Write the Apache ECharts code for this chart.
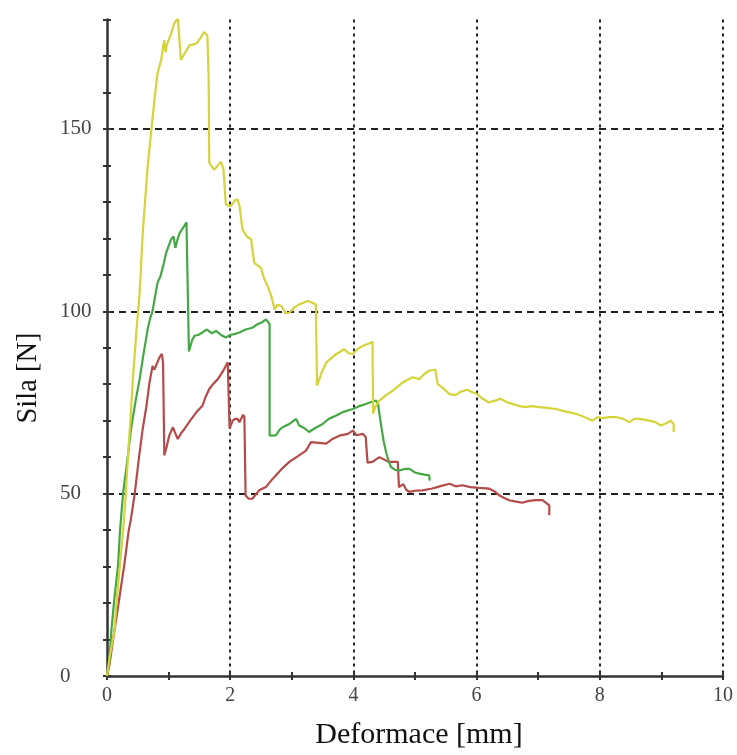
<!DOCTYPE html>
<html>
<head>
<meta charset="utf-8">
<script src="https://cdn.jsdelivr.net/npm/echarts@6/dist/echarts.min.js"></script>
<style>
html,body{margin:0;padding:0;background:#fff;}
#chart{width:737px;height:755px;}
</style>
</head>
<body>
<div id="chart"></div>
<script>
// x tick labels (every 2 mm) and y tick labels (every 50 N)
var xTickLabels = [0, 2, 4, 6, 8, 10];
var yTickLabels = [0, 50, 100, 150];
var xTitle = 'Deformace [mm]';
var yTitle = 'Sila [N]';

// Yellow curve [deformation mm, force N]
var yellowData = [
[0,0],[0.04,4.9],[0.12,12.3],[0.16,21.3],[0.21,30.4],[0.26,39.6],[0.30,48.6],[0.34,60],[0.38,70],
[0.42,81.4],[0.48,95.1],[0.53,105],[0.58,121.5],[0.66,139.7],[0.72,149.7],[0.77,157.9],[0.82,165.2],
[0.88,169],[0.91,172.5],[0.93,174.3],[0.95,171],[0.97,173],[1.04,176.1],[1.09,178.9],[1.15,180.3],
[1.18,180.6],[1.20,168.9],[1.27,171],[1.34,172.9],[1.45,173.4],[1.52,175],[1.58,176.6],[1.63,175.5],
[1.65,164],[1.66,140.7],[1.74,138.8],[1.80,140],[1.85,141],[1.89,139],[1.93,129.2],[2.01,128.8],
[2.08,130.5],[2.12,130.6],[2.15,129],[2.20,122.4],[2.27,120.5],[2.34,119.7],[2.39,113.3],[2.50,111.9],
[2.55,109],[2.61,106.9],[2.67,104],[2.72,100.5],[2.77,101.8],[2.83,101.4],[2.90,99.5],[2.96,99.6],
[3.04,101],[3.12,101.9],[3.26,102.8],[3.39,101.9],[3.41,79.6],[3.48,83],[3.56,86.0],[3.70,88],
[3.85,89.6],[3.92,88.5],[3.99,88.3],[4.08,89.8],[4.15,90.5],[4.31,91.6],[4.32,71.9],[4.36,74],
[4.42,75.5],[4.53,77],[4.64,78.2],[4.80,80.5],[4.96,81.9],[5.07,81.4],[5.15,82.8],[5.23,83.7],
[5.33,84],[5.37,80],[5.45,79],[5.56,77.3],[5.66,77.0],[5.75,78],[5.85,78.5],[5.93,77.8],[6.01,77.3],
[6.10,76],[6.20,75.0],[6.30,75.5],[6.39,76.0],[6.50,75],[6.58,74.6],[6.70,74],[6.80,73.7],[6.90,74],
[7.02,73.7],[7.15,73.5],[7.29,73.2],[7.45,72.5],[7.61,71.9],[7.75,71],[7.88,70.0],[7.96,71],[8.04,70.7],
[8.15,71],[8.26,71.0],[8.38,70.5],[8.48,69.6],[8.56,70.5],[8.64,70.5],[8.72,70.3],[8.80,70],[8.90,69.6],
[8.99,68.7],[9.08,69.3],[9.15,70.0],[9.20,69.1],[9.20,66.9]
];

// Green curve
var greenData = [
[0,0],[0.04,4],[0.07,12.3],[0.12,21.3],[0.18,30.4],[0.21,39.6],[0.26,50],[0.34,60.5],[0.39,67.8],
[0.47,76],[0.53,81.4],[0.59,88],[0.64,93],[0.66,95.1],[0.70,98],[0.74,100.1],[0.78,104],[0.82,107.8],
[0.87,109.7],[0.92,113],[0.96,116],[1.04,119.7],[1.08,120.5],[1.11,117.4],[1.15,120],[1.18,121.5],
[1.24,123],[1.29,124.4],[1.32,124.6],[1.33,89],[1.38,92],[1.42,93.3],[1.48,93.5],[1.55,94.2],[1.62,95],
[1.70,94],[1.77,94.6],[1.85,93.5],[1.93,92.8],[2.00,93.5],[2.08,93.8],[2.15,94.2],[2.25,95],[2.36,95.5],
[2.45,96.5],[2.52,97],[2.58,97.8],[2.64,96.5],[2.64,65.9],[2.74,66],[2.80,67.5],[2.85,68.2],[2.95,69],
[3.07,70.5],[3.12,68.7],[3.20,68],[3.28,66.9],[3.38,68],[3.50,69.1],[3.60,70.5],[3.72,71.4],[3.85,72.5],
[3.99,73.2],[4.10,74],[4.20,74.6],[4.30,75.2],[4.37,75.5],[4.40,74.5],[4.45,68.7],[4.49,64.5],
[4.53,61.4],[4.57,59],[4.61,57.3],[4.68,56.5],[4.76,56.4],[4.84,56.8],[4.91,56.8],[5.00,55.8],
[5.07,55.5],[5.15,55.2],[5.23,55.0],[5.24,53.6]
];

// Red curve
var redData = [
[0,0],[0.04,3.1],[0.12,12.3],[0.20,21.3],[0.28,30.4],[0.35,39.6],[0.39,43.2],[0.45,50],[0.52,60],
[0.58,67.8],[0.64,74],[0.69,80.5],[0.74,85.0],[0.77,84],[0.80,83.7],[0.85,87.3],[0.89,88.3],[0.91,86],
[0.93,60.5],[0.97,63],[1.01,65.9],[1.07,68.2],[1.11,66.5],[1.15,65.0],[1.20,66.5],[1.26,67.8],[1.35,70],
[1.45,72.3],[1.55,74.1],[1.60,76.5],[1.66,78.7],[1.72,80],[1.80,81.4],[1.88,83.5],[1.96,86.0],[1.99,67.8],
[2.04,70.0],[2.08,70.5],[2.12,70.5],[2.15,69.6],[2.21,71.6],[2.23,71],[2.25,49.5],[2.30,48.6],[2.36,48.6],
[2.39,49.1],[2.47,50.9],[2.58,51.8],[2.66,53.5],[2.74,55.0],[2.85,57],[2.96,58.7],[3.10,60.3],[3.23,61.8],
[3.31,64.1],[3.40,64],[3.56,63.7],[3.66,65],[3.77,65.9],[3.91,66.4],[3.99,67.3],[4.05,66],[4.15,66.4],
[4.20,65.5],[4.23,58.5],[4.31,58.7],[4.42,60.0],[4.47,59.6],[4.58,58.7],[4.72,58.7],[4.74,51.8],
[4.81,52.6],[4.86,51],[4.91,50.5],[5.00,50.8],[5.12,50.9],[5.28,51.4],[5.40,52],[5.56,52.7],[5.66,52],
[5.77,52.3],[5.90,51.8],[6.04,51.6],[6.20,51.4],[6.30,50.5],[6.37,49.5],[6.45,48.8],[6.53,48.2],
[6.64,47.8],[6.74,47.5],[6.85,48],[6.96,48.2],[7.07,48.2],[7.18,46.8],[7.18,44.1]
];

var chart = echarts.init(document.getElementById('chart'), null, {renderer:'canvas'});

var T = 'rgba(0,0,0,0)';
var xSplitColors = [];
for (var i = 0; i <= 10; i++) xSplitColors.push((xTickLabels.indexOf(i) > 0) ? '#222' : T);
var ySplitColors = [];
for (var j = 0; j <= 18; j++) { var v = j*10; ySplitColors.push((yTickLabels.indexOf(v) > 0) ? '#222' : T); }

var serifFont = '"Liberation Serif","DejaVu Serif",serif';

function makeLine(data, color) {
  return { type:'line', data:data, showSymbol:false, symbol:'none', animation:false,
    lineStyle:{ color:color, width:2.2 }, z:3, xAxisIndex:0, yAxisIndex:0 };
}

chart.setOption({
  backgroundColor:'#ffffff',
  animation:false,
  grid:{ left:107, right:14, top:19.5, bottom:77, containLabel:false },
  xAxis:[{
    type:'value', min:0, max:10, interval:1,
    axisLine:{ show:true, onZero:false, lineStyle:{ color:'#333', width:2.5 } },
    axisTick:{ show:true, inside:true, length:4, lineStyle:{ color:'#333', width:2 } },
    axisLabel:{ show:true, margin:10, fontFamily:serifFont, fontSize:20, color:'#444',
      formatter:function(v){ return xTickLabels.indexOf(v) >= 0 ? String(v) : ''; } },
    splitLine:{ show:true, lineStyle:{ color:xSplitColors, width:2, type:[3,4] } },
    name:xTitle, nameLocation:'middle', nameGap:44,
    nameTextStyle:{ fontFamily:serifFont, fontSize:30, color:'#111', padding:[0,0,0,8] }
  },{
    type:'value', min:0, max:10, interval:1, position:'bottom',
    axisLine:{ show:false }, axisTick:{ show:true, inside:false, length:4, lineStyle:{ color:'#333', width:2 } },
    axisLabel:{ show:false }, splitLine:{ show:false }
  }],
  yAxis:[{
    type:'value', min:0, max:180, interval:10,
    axisLine:{ show:true, onZero:false, lineStyle:{ color:'#333', width:2.5 } },
    axisTick:{ show:true, inside:true, length:4, lineStyle:{ color:'#333', width:2 } },
    axisLabel:{ show:true, margin:47, align:'left', fontFamily:serifFont, fontSize:21, color:'#444',
      formatter:function(v){ return yTickLabels.indexOf(v) >= 0 ? String(v) : ''; } },
    splitLine:{ show:true, lineStyle:{ color:ySplitColors, width:2, type:[7,5] } }
  },{
    type:'value', min:0, max:180, interval:10, position:'left',
    axisLine:{ show:false }, axisTick:{ show:true, inside:false, length:4, lineStyle:{ color:'#333', width:2 } },
    axisLabel:{ show:false }, splitLine:{ show:false }
  }],
  graphic:[{
    type:'text', x:29, y:378, rotation:Math.PI/2, z:10,
    style:{ text:yTitle, fontFamily:serifFont, fontSize:28.5, fill:'#111', align:'center', verticalAlign:'middle' }
  }],
  series:[
    makeLine(redData, '#b44a4a'),
    makeLine(greenData, '#45a845'),
    makeLine(yellowData, '#d4d43a')
  ]
});
</script>
</body>
</html>
